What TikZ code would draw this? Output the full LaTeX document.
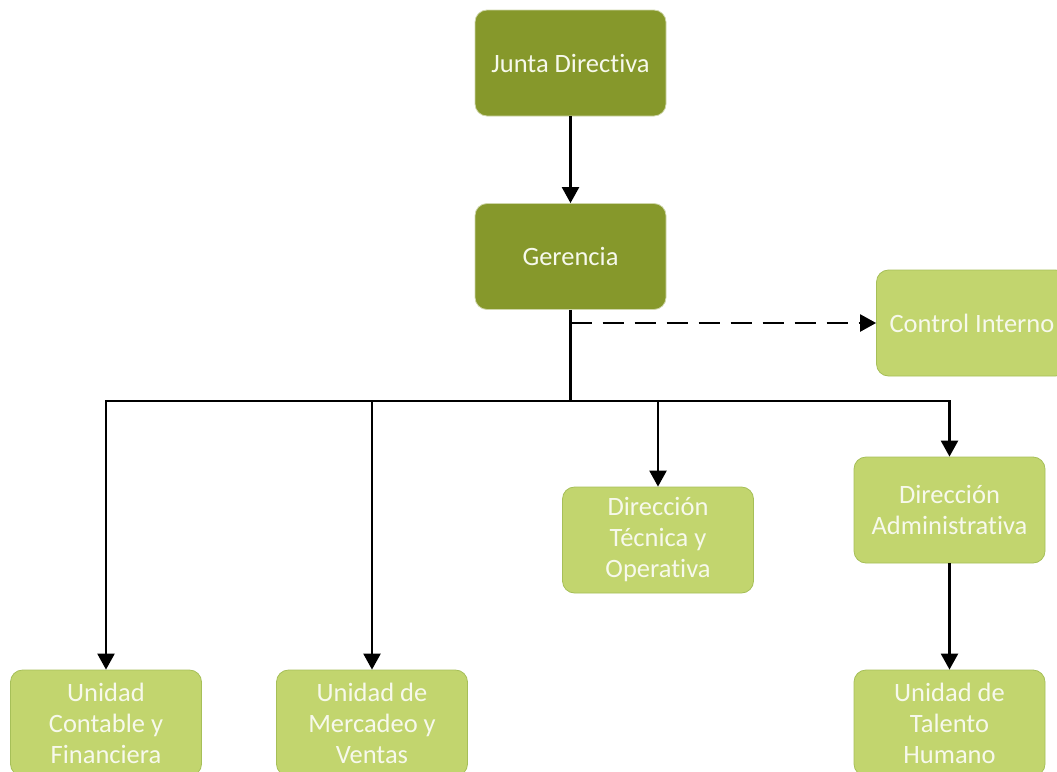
\documentclass[tikz,border=0pt]{standalone}
\usepackage{fontspec}
\setmainfont{Carlito}[RawFeature=-liga]
\usepackage{tikz}
\usetikzlibrary{arrows.meta}
\usepackage{xcolor}
\definecolor{darkolive}{HTML}{86982B}
\definecolor{lightolive}{HTML}{C2D56E}
\definecolor{oliveline}{HTML}{A6BF58}
\definecolor{boxtext}{HTML}{F7F9EC}

\begin{document}
\begin{tikzpicture}[x=1pt, y=-1pt,
    topbox/.style={rectangle, rounded corners=12pt, minimum width=191pt, minimum height=106pt,
        fill=darkolive, draw=white!60!darkolive, line width=0.8pt, text=boxtext, align=center,
        font=\fontsize{26.5}{31}\selectfont},
    unitbox/.style={rectangle, rounded corners=12pt, minimum width=191pt, minimum height=106pt,
        fill=lightolive, draw=oliveline, line width=0.8pt, text=boxtext, align=center,
        font=\fontsize{26.5}{31}\selectfont},
    link/.style={line width=2.4pt, draw=black},
    tip/.style={-{Triangle[length=16pt,width=17pt]}}]
    \useasboundingbox (0, 0) rectangle (1057, 771);
    \node[topbox] (junta) at (570.5, 63) {Junta Directiva};
    \node[topbox] (ger) at (570.5, 256.5) {Gerencia};
    \node[unitbox] (ci) at (972, 323) {Control Interno};
    \node[unitbox] (dto) at (658, 540) {Dirección\\Técnica y\\Operativa};
    \node[unitbox] (dadm) at (949.5, 510) {Dirección\\Administrativa};
    \node[unitbox] (ucf) at (106, 723) {Unidad\\Contable y\\Financiera};
    \node[unitbox] (umv) at (372, 723) {Unidad de\\Mercadeo y\\Ventas};
    \node[unitbox] (uth) at (949.5, 723) {Unidad de\\Talento\\Humano};
    \coordinate (dsh) at (570.5, 323);
    \coordinate (bus) at (570.5, 401);
    \draw[link, tip] (junta) -- (ger);
    \draw[link] (ger) -- (bus);
    \draw[link, tip, dash pattern=on 21pt off 11pt] (dsh) -- (ci);
    \draw[link, tip] (bus) -| (ucf);
    \draw[link, tip] (bus) -| (umv);
    \draw[link, tip] (bus) -| (dto);
    \draw[link, tip] (bus) -| (dadm);
    \draw[link, tip] (dadm) -- (uth);
\end{tikzpicture}
\end{document}
